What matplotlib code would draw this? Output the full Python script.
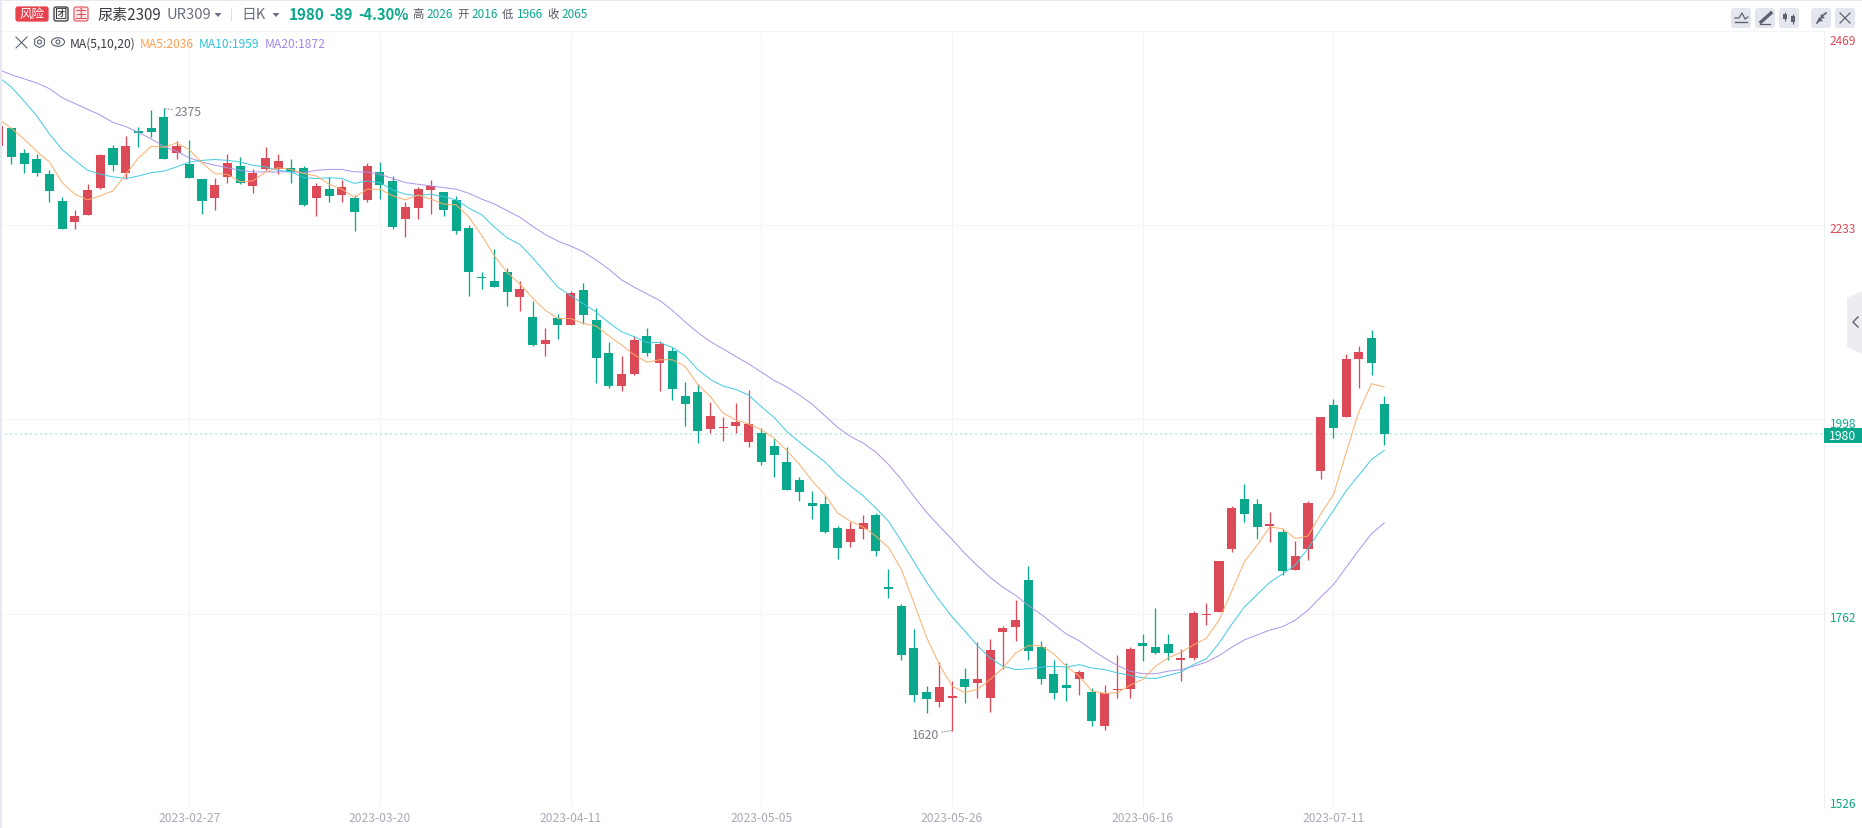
import numpy as np
import matplotlib
matplotlib.use('Agg')
import matplotlib.pyplot as plt
import matplotlib.transforms as mtransforms
from matplotlib.patches import Rectangle, FancyBboxPatch, Polygon, RegularPolygon, Circle, Ellipse

plt.rcParams['font.family'] = ['Noto Sans CJK SC', 'DejaVu Sans']

# candles, first one is the cut off bar at the left edge
opens = [2330, 2351, 2321, 2314, 2295, 2263, 2237, 2246, 2278, 2327, 2297, 2348, 2351, 2365, 2321, 2308, 2289, 2266,
         2292, 2305, 2281, 2302, 2302, 2303, 2303, 2266, 2277, 2270, 2266, 2264, 2298, 2287, 2241, 2254, 2276, 2274,
         2264, 2230, 2170, 2165, 2177, 2146, 2122, 2089, 2121, 2112, 2155, 2118, 2078, 2038, 2053, 2099, 2066, 2081,
         2026, 2031, 1986, 1987, 1990, 1970, 1981, 1965, 1946, 1924, 1896, 1895, 1866, 1849, 1864, 1881, 1793, 1771,
         1720, 1667, 1655, 1660, 1683, 1678, 1660, 1740, 1746, 1803, 1722, 1689, 1675, 1683, 1667, 1625, 1669, 1671,
         1726, 1722, 1725, 1706, 1708, 1760, 1764, 1840, 1901, 1895, 1868, 1861, 1815, 1840, 1935, 2015, 2001, 2071,
         2096, 2016]
highs = [2354, 2351, 2326, 2320, 2300, 2268, 2252, 2283, 2320, 2331, 2342, 2352, 2373, 2375, 2336, 2337, 2289, 2291,
         2320, 2316, 2302, 2328, 2320, 2314, 2305, 2285, 2292, 2288, 2270, 2309, 2310, 2293, 2261, 2280, 2288, 2274,
         2269, 2234, 2176, 2204, 2181, 2166, 2141, 2109, 2126, 2154, 2163, 2133, 2092, 2074, 2099, 2109, 2093, 2086,
         2043, 2040, 2019, 2000, 2018, 2033, 1987, 1975, 1964, 1928, 1911, 1905, 1868, 1873, 1882, 1884, 1816, 1774,
         1743, 1674, 1703, 1680, 1696, 1728, 1731, 1747, 1779, 1820, 1729, 1706, 1702, 1694, 1672, 1675, 1712, 1722,
         1737, 1769, 1737, 1719, 1765, 1775, 1826, 1893, 1919, 1901, 1885, 1864, 1850, 1899, 2000, 2022, 2077, 2087,
         2106, 2026]
lows = [2330, 2308, 2297, 2293, 2261, 2229, 2229, 2246, 2277, 2299, 2289, 2328, 2340, 2314, 2314, 2290, 2247, 2252,
        2285, 2283, 2272, 2300, 2295, 2285, 2257, 2245, 2261, 2261, 2226, 2261, 2265, 2229, 2219, 2241, 2247, 2245,
        2223, 2147, 2156, 2158, 2135, 2129, 2087, 2074, 2095, 2112, 2114, 2042, 2036, 2032, 2052, 2074, 2032, 2021,
        1990, 1969, 1981, 1972, 1981, 1964, 1942, 1928, 1912, 1899, 1877, 1860, 1828, 1843, 1853, 1832, 1781, 1706,
        1655, 1641, 1648, 1620, 1654, 1660, 1643, 1695, 1729, 1706, 1677, 1658, 1656, 1663, 1626, 1621, 1660, 1660,
        1705, 1713, 1706, 1680, 1706, 1748, 1764, 1837, 1873, 1853, 1849, 1809, 1815, 1827, 1925, 1975, 2001, 2036,
        2052, 1966]
closes = [2354, 2316, 2308, 2297, 2275, 2229, 2245, 2276, 2319, 2306, 2329, 2345, 2346, 2314, 2329, 2291, 2263, 2282,
          2309, 2285, 2297, 2315, 2311, 2298, 2258, 2281, 2269, 2280, 2249, 2305, 2282, 2231, 2255, 2277, 2281, 2252,
          2226, 2177, 2169, 2158, 2152, 2156, 2088, 2094, 2112, 2151, 2124, 2072, 2038, 2053, 2094, 2078, 2089, 2035,
          2016, 1983, 2002, 1988, 1995, 1992, 1946, 1955, 1912, 1910, 1893, 1861, 1842, 1865, 1872, 1838, 1792, 1712,
          1663, 1658, 1673, 1662, 1673, 1682, 1718, 1745, 1754, 1717, 1683, 1665, 1672, 1691, 1631, 1666, 1670, 1719,
          1723, 1714, 1714, 1707, 1763, 1761, 1826, 1890, 1883, 1867, 1871, 1814, 1832, 1896, 2000, 1987, 2071, 2079,
          2066, 1980]

# moving average lines
ma5 = [2362, 2351, 2338, 2323, 2310, 2285, 2271, 2264, 2269, 2275, 2295, 2315, 2329, 2328, 2333, 2325, 2309, 2296,
       2295, 2286, 2287, 2298, 2303, 2301, 2296, 2293, 2283, 2277, 2267, 2277, 2277, 2269, 2264, 2270, 2265, 2259,
       2258, 2243, 2221, 2196, 2176, 2162, 2145, 2130, 2120, 2120, 2114, 2111, 2099, 2088, 2076, 2067, 2070, 2070,
       2062, 2040, 2025, 2005, 1997, 1992, 1985, 1975, 1960, 1943, 1923, 1906, 1884, 1874, 1867, 1856, 1842, 1816,
       1775, 1733, 1700, 1674, 1666, 1670, 1682, 1696, 1714, 1723, 1723, 1713, 1698, 1686, 1668, 1665, 1666, 1675,
       1682, 1698, 1708, 1715, 1724, 1732, 1754, 1789, 1825, 1845, 1867, 1865, 1853, 1856, 1883, 1906, 1957, 2007,
       2041, 2037]
ma10 = [2413, 2401, 2384, 2366, 2344, 2325, 2312, 2300, 2295, 2292, 2290, 2293, 2297, 2299, 2304, 2310, 2312, 2313,
        2312, 2310, 2306, 2304, 2300, 2298, 2291, 2290, 2291, 2290, 2284, 2287, 2285, 2276, 2271, 2269, 2271, 2268,
        2264, 2254, 2246, 2231, 2218, 2210, 2194, 2176, 2158, 2148, 2138, 2128, 2115, 2104, 2098, 2091, 2091, 2085,
        2075, 2058, 2046, 2038, 2034, 2027, 2013, 2000, 1983, 1970, 1958, 1946, 1930, 1917, 1905, 1890, 1874, 1850,
        1825, 1800, 1778, 1758, 1741, 1723, 1708, 1698, 1694, 1695, 1697, 1698, 1697, 1700, 1696, 1694, 1690, 1687,
        1684, 1683, 1687, 1691, 1700, 1707, 1726, 1749, 1770, 1785, 1800, 1810, 1821, 1841, 1864, 1887, 1911, 1930,
        1949, 1960]
ma20 = [2422, 2416, 2411, 2406, 2399, 2388, 2381, 2374, 2367, 2358, 2353, 2346, 2338, 2329, 2323, 2315, 2310, 2306,
        2303, 2300, 2298, 2298, 2298, 2298, 2297, 2300, 2301, 2301, 2298, 2298, 2295, 2290, 2285, 2283, 2281, 2279,
        2277, 2272, 2265, 2259, 2251, 2243, 2232, 2222, 2214, 2208, 2201, 2191, 2180, 2167, 2158, 2150, 2142, 2130,
        2116, 2103, 2092, 2083, 2074, 2065, 2055, 2045, 2037, 2027, 2016, 2002, 1988, 1977, 1969, 1958, 1943, 1925,
        1904, 1885, 1868, 1852, 1835, 1820, 1806, 1794, 1784, 1772, 1761, 1749, 1737, 1729, 1718, 1708, 1699, 1692,
        1689, 1689, 1692, 1694, 1698, 1703, 1711, 1721, 1730, 1736, 1742, 1746, 1754, 1766, 1782, 1797, 1818, 1839,
        1859, 1872]

# axis labels
price_ticks = [2469, 2233, 1998, 1762, 1526]
date_ticks = [14, 29, 44, 59, 74, 89, 104]
date_labels = ['2023-02-27', '2023-03-20', '2023-04-11', '2023-05-05', '2023-05-26', '2023-06-16', '2023-07-11']
last_price = 1980

GREEN = '#0AA88D'
RED = '#DC4A58'
GRID = '#F4F4F8'
ORANGE = '#FFAD69'
CYAN = '#3FCBE0'
PURPLE = '#AE92EA'
ICON = '#5C6272'

W, H = 1862, 829
fig = plt.figure(figsize=(W / 100, H / 100), dpi=100, facecolor='white')

# price chart, 1824 wide, top at 32 and bottom at 809 in pixels
ax = fig.add_axes([0, (H - 809) / H, 1824 / W, (809 - 32) / H])
ax.set_xlim(-0.889, 142.59)
ax.set_ylim(1526, 2469)
ax.set_axisbelow(True)
ax.grid(True, color=GRID, linewidth=0.8)
for side in ['left', 'top', 'bottom']:
    ax.spines[side].set_visible(False)
ax.spines['right'].set_color('#EFEFF3')
ax.spines['right'].set_linewidth(0.8)

x = np.arange(-1, 109)
o = np.array(opens)
c = np.array(closes)
up = c >= o
colors = np.where(up, RED, GREEN)

ax.vlines(x, lows, highs, colors=colors, linewidth=0.95, zorder=2)
bottoms = np.minimum(o, c)
heights = np.maximum(np.abs(c - o), 2)
ax.bar(x, heights, bottom=bottoms, width=0.71, color=colors, linewidth=0, zorder=3)

ax.plot(x, ma20, color=PURPLE, linewidth=0.7, zorder=4)
ax.plot(x, ma10, color=CYAN, linewidth=0.7, zorder=4)
ax.plot(x, ma5, color=ORANGE, linewidth=0.7, zorder=4)

# last price line
ax.axhline(last_price, color='#BDEBE0', linewidth=1.2, linestyle=(0, (1.3, 1.7)), zorder=1)

# high and low markers
gray_txt = '#7C7E8C'
leader = dict(arrowstyle='-', linestyle=':', color='#9A9CA8', linewidth=0.8, shrinkA=0, shrinkB=0)
ax.annotate('2375', xy=(12, 2375), xytext=(11, -3), textcoords='offset pixels', ha='left', va='center',
            fontsize=8.8, color=gray_txt, arrowprops=leader)
ax.annotate('1620', xy=(74, 1620), xytext=(-13, -4), textcoords='offset pixels', ha='right', va='center',
            fontsize=8.8, color=gray_txt, arrowprops=leader)

# ticks
ax.set_xticks(date_ticks)
ax.set_xticklabels(date_labels, fontsize=8.7, color='#A9AAB8')
ax.set_yticks(price_ticks)
ax.yaxis.tick_right()
ax.set_yticklabels([str(p) for p in price_ticks], fontsize=8.6)
ax.tick_params(axis='x', length=0, pad=2.5)
ax.tick_params(axis='y', length=0, pad=4.3)
shift_px = [-8, -2, -3, -2, 6]
for tick, p, dy in zip(ax.yaxis.get_major_ticks(), price_ticks, shift_px):
    lab = tick.label2
    lab.set_color(RED if p > 2000 else GREEN)
    lab.set_transform(lab.get_transform() + mtransforms.ScaledTranslation(0, dy / 100, fig.dpi_scale_trans))

# overlay in pixel coordinates for the header and buttons
ui = fig.add_axes([0, 0, 1, 1], zorder=5)
ui.set_xlim(0, W)
ui.set_ylim(H, 0)
ui.axis('off')
ui.patch.set_alpha(0)

# page borders
ui.add_patch(Rectangle((0, 0), W, 1.5, color='#E6E8F2', linewidth=0))
ui.add_patch(Rectangle((0, 0), 1.5, H, color='#E6E8F2', linewidth=0))


def label(px, py, txt, size=8.5, color='#333333', weight='normal', ha='left'):
    ui.text(px, py, txt, fontsize=size, color=color, fontweight=weight, ha=ha, va='center')


def badge(x0, x1, fill, edge, txt, txt_color):
    ui.add_patch(FancyBboxPatch((x0 + 1, 8), x1 - x0 - 2, 14, boxstyle='round,pad=0,rounding_size=2',
                                facecolor=fill, edgecolor=edge, linewidth=0.9))
    label((x0 + x1) / 2, 14.5, txt, size=9, color=txt_color, ha='center')


def caret(px, py):
    ui.add_patch(Polygon([(px - 3.5, py - 2), (px + 3.5, py - 2), (px, py + 2)], color='#6B7080', linewidth=0))


# top row
badge(15, 49, '#E8424F', '#E8424F', '风险', 'white')
badge(53, 69, '#F2F2F4', '#333333', '团', '#333333')
badge(73, 89, '#FDE6E6', '#E8606A', '主', '#E0404E')
label(97, 15, '尿素2309', size=10.9, color='#3A3A42')
label(166, 15, 'UR309', size=10.6, color='#6B7080')
caret(218, 16)
ui.plot([231, 231], [9, 21], color='#DDDEE4', linewidth=0.8)
label(241, 15, '日K', size=10.6, color='#6B7080')
caret(276, 16)
label(289, 15, '1980', size=10.9, color=GREEN, weight='bold')
label(329, 15, '-89', size=10.9, color=GREEN, weight='bold')
label(358, 15, '-4.30%', size=10.6, color=GREEN, weight='bold')

quote_x = [412, 457, 502, 547]
quote_names = ['高', '开', '低', '收']
quote_vals = ['2026', '2016', '1966', '2065']
for qx, name, val in zip(quote_x, quote_names, quote_vals):
    label(qx, 14.5, name, size=8.2, color='#555863')
    label(qx + 14.5, 14.5, val, size=8.5, color=GREEN)

# second row
ui.plot([16, 27], [38, 49], color=ICON, linewidth=0.8)
ui.plot([16, 27], [49, 38], color=ICON, linewidth=0.8)
ui.add_patch(RegularPolygon((39.5, 43), 6, radius=5.6, facecolor='none', edgecolor=ICON, linewidth=0.8))
ui.add_patch(Circle((39.5, 43), 2, facecolor='none', edgecolor=ICON, linewidth=0.8))
ui.add_patch(Ellipse((58, 43), 13, 8.5, facecolor='none', edgecolor=ICON, linewidth=0.8))
ui.add_patch(Circle((58, 43), 2, facecolor='none', edgecolor=ICON, linewidth=0.8))
label(69.5, 44, 'MA(5,10,20)', size=8.7, color='#3A3A42')
label(140, 44, 'MA5:2036', size=8.7, color='#FF9F50')
label(199, 44, 'MA10:1959', size=8.7, color='#2FC3DC')
label(265, 44, 'MA20:1872', size=8.7, color='#A585E8')

# toolbar buttons on the right
for bx in [1731, 1755, 1779, 1811, 1835]:
    ui.add_patch(FancyBboxPatch((bx, 9), 20, 20, boxstyle='round,pad=0,rounding_size=3',
                                facecolor='#E3E6ED', edgecolor='none'))
ui.plot([1735, 1739, 1742, 1745, 1748], [19, 19, 14, 20, 18], color=ICON, linewidth=0.9)
ui.plot([1735, 1747], [23, 23], color=ICON, linewidth=1.0)
ui.plot([1761, 1771], [23, 14], color=ICON, linewidth=2.4)
ui.plot([1760, 1770], [24.5, 24.5], color=ICON, linewidth=0.9)
ui.vlines([1785, 1793], [13, 15], [22, 25], color=ICON, linewidth=0.8)
ui.add_patch(Rectangle((1783, 15), 4, 5, color=ICON, linewidth=0))
ui.add_patch(Rectangle((1791, 17), 4, 6, color=ICON, linewidth=0))
ui.plot([1817, 1820], [24, 20], color=ICON, linewidth=1.2)
ui.plot([1822, 1826], [17, 14], color=ICON, linewidth=1.2)
ui.add_patch(Polygon([(1819, 18), (1823, 22), (1817, 23)], color=ICON, linewidth=0))
ui.add_patch(Polygon([(1821, 15), (1825, 19), (1820, 20)], color=ICON, linewidth=0))
ui.plot([1840, 1850], [14, 24], color=ICON, linewidth=0.9)
ui.plot([1840, 1850], [24, 14], color=ICON, linewidth=0.9)

# collapse tab
ui.add_patch(Polygon([(1862, 292), (1847, 299), (1847, 348), (1862, 355)], color='#EDEDF1', linewidth=0))
ui.plot([1858, 1853, 1858], [318, 323, 328], color=ICON, linewidth=1.0)

# last price tag
ui.add_patch(Rectangle((1824, 429), 38, 15, color=GREEN, linewidth=0))
label(1843, 436, str(last_price), size=8.8, color='white', ha='center')

fig.savefig('out.png', dpi=100)
